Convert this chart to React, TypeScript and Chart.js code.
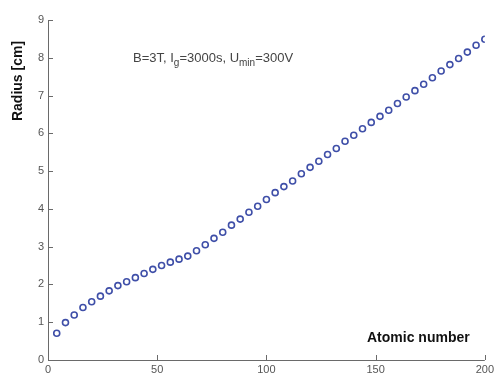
import React, { useEffect, useRef } from "react";
import { Chart, registerables } from "chart.js";

Chart.register(...registerables);

const atomicNumbers = [4, 8, 12, 16, 20, 24, 28, 32, 36, 40, 44, 48, 52, 56, 60, 64, 68, 72, 76, 80, 84, 88, 92, 96, 100, 104, 108, 112, 116, 120, 124, 128, 132, 136, 140, 144, 148, 152, 156, 160, 164, 168, 172, 176, 180, 184, 188, 192, 196, 200];
const radiusCm = [0.71, 0.99, 1.19, 1.39, 1.54, 1.69, 1.83, 1.97, 2.07, 2.18, 2.29, 2.40, 2.50, 2.59, 2.67, 2.75, 2.89, 3.05, 3.22, 3.38, 3.57, 3.73, 3.91, 4.07, 4.25, 4.43, 4.59, 4.74, 4.93, 5.10, 5.26, 5.44, 5.60, 5.79, 5.95, 6.12, 6.29, 6.45, 6.61, 6.79, 6.96, 7.13, 7.30, 7.47, 7.65, 7.82, 7.98, 8.15, 8.33, 8.49];
const xTicks = [0, 50, 100, 150, 200];
const yTicks = [0, 1, 2, 3, 4, 5, 6, 7, 8, 9];
const xTitle = "Atomic number";
const yTitle = "Radius [cm]";

const FONT = "'Liberation Sans', Arial, sans-serif";
const AXIS_COLOR = "#6a6a6a";

const decorPlugin = {
  id: "decor",
  afterDraw(chart: any) {
    const ctx = chart.ctx;
    const xs = chart.scales.x;
    const ys = chart.scales.y;
    const ca = chart.chartArea;
    ctx.save();
    // axes
    ctx.strokeStyle = AXIS_COLOR;
    ctx.lineWidth = 1;
    ctx.beginPath();
    ctx.moveTo(ca.left + 0.5, ca.top);
    ctx.lineTo(ca.left + 0.5, ca.bottom + 0.5);
    ctx.lineTo(ca.right, ca.bottom + 0.5);
    ctx.stroke();
    // inward ticks
    ctx.beginPath();
    xTicks.forEach((v) => {
      const px = Math.round(xs.getPixelForValue(v)) + 0.5;
      ctx.moveTo(px, ca.bottom);
      ctx.lineTo(px, ca.bottom - 5);
    });
    yTicks.forEach((v) => {
      const py = Math.round(ys.getPixelForValue(v)) + 0.5;
      ctx.moveTo(ca.left, py);
      ctx.lineTo(ca.left + 5, py);
    });
    ctx.stroke();
    // y title
    ctx.fillStyle = "#111";
    ctx.font = `bold 14px ${FONT}`;
    ctx.textAlign = "center";
    ctx.textBaseline = "middle";
    ctx.save();
    ctx.translate(18, 81);
    ctx.rotate(-Math.PI / 2);
    ctx.fillText(yTitle, 0, 0);
    ctx.restore();
    // x title inside plot
    ctx.textAlign = "left";
    ctx.fillText(xTitle, 367, 338);
    // annotation with subscripts
    ctx.fillStyle = "#444";
    ctx.textBaseline = "alphabetic";
    const base = 62;
    let x = 133;
    const parts: [string, boolean][] = [
      ["B=3T, I", false],
      ["g", true],
      ["=3000s, U", false],
      ["min", true],
      ["=300V", false],
    ];
    parts.forEach(([t, sub]) => {
      ctx.font = sub ? `10px ${FONT}` : `13px ${FONT}`;
      ctx.fillText(t, x, sub ? base + 4 : base);
      x += ctx.measureText(t).width;
    });
    ctx.restore();
  },
};

export default function App() {
  const ref = useRef<HTMLCanvasElement>(null);
  useEffect(() => {
    const prevMargin = document.body.style.margin;
    document.body.style.margin = "0";
    const chart = new Chart(ref.current!, {
      type: "scatter",
      data: {
        datasets: [
          {
            data: atomicNumbers.map((x, i) => ({ x, y: radiusCm[i] })),
            pointRadius: 3,
            pointBorderWidth: 1.6,
            pointBorderColor: "#3f4fa8",
            pointBackgroundColor: "#ffffff",
            showLine: false,
          },
        ],
      },
      options: {
        responsive: false,
        animation: false,
        devicePixelRatio: 1,
        layout: { padding: { top: 20, right: 10, left: 0, bottom: 0 } },
        plugins: { legend: { display: false }, tooltip: { enabled: false } },
        scales: {
          x: {
            type: "linear",
            min: 0,
            max: 200,
            afterBuildTicks: (s: any) => {
              s.ticks = xTicks.map((v) => ({ value: v }));
            },
            afterFit: (s: any) => {
              s.height = 14;
            },
            grid: { display: false, drawTicks: false },
            border: { display: false },
            ticks: {
              padding: 3,
              color: "#555",
              font: { family: FONT, size: 11 },
              maxRotation: 0,
            },
          },
          y: {
            type: "linear",
            min: 0,
            max: 9,
            afterBuildTicks: (s: any) => {
              s.ticks = yTicks.map((v) => ({ value: v }));
            },
            afterFit: (s: any) => {
              s.width = 48;
            },
            grid: { display: false, drawTicks: false },
            border: { display: false },
            ticks: {
              padding: 4,
              color: "#555",
              font: { family: FONT, size: 11 },
            },
          },
        },
      },
      plugins: [decorPlugin],
    });
    return () => {
      chart.destroy();
      document.body.style.margin = prevMargin;
    };
  }, []);
  return (
    <div style={{ position: "absolute", left: 0, top: 0, width: 497, height: 374 }}>
      <canvas ref={ref} width={497} height={374} style={{ width: 497, height: 374 }} />
    </div>
  );
}
